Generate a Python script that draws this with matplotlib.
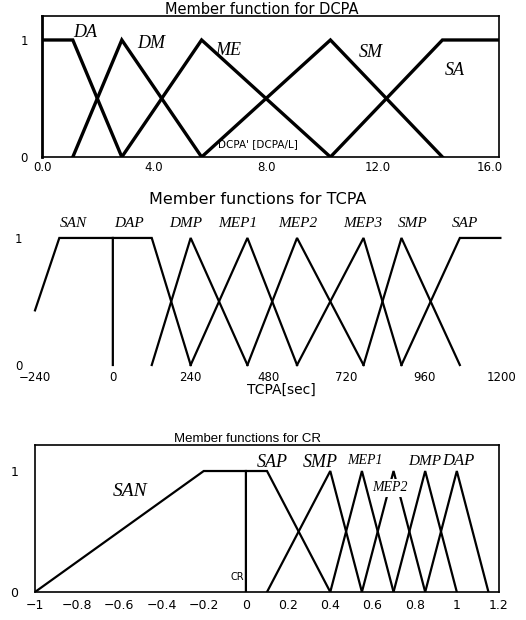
import matplotlib.pyplot as plt

plt.rcParams['font.family'] = 'DejaVu Sans'

# DCPA membership functions (break points)
dcpa_names = ['DA', 'DM', 'ME', 'SM', 'SA']
dcpa_x = [[0, 1.1, 2.85], [1.1, 2.85, 5.7], [2.85, 5.7, 10.3],
          [5.7, 10.3, 14.3], [10.3, 14.3, 16.3]]
dcpa_y = [[1, 1, 0], [0, 1, 0], [0, 1, 0], [0, 1, 0], [0, 1, 1]]

# TCPA membership functions
tcpa_names = ['SAN', 'DAP', 'DMP', 'MEP1', 'MEP2', 'MEP3', 'SMP', 'SAP']
tcpa_x = [[-240, -165, 0], [0, 0, 120, 240], [120, 240, 415], [240, 415, 568],
          [415, 568, 773], [568, 773, 890], [773, 890, 1070], [890, 1070, 1195]]
tcpa_y = [[0.43, 1, 1], [0, 1, 1, 0], [0, 1, 0], [0, 1, 0],
          [0, 1, 0], [0, 1, 0], [0, 1, 0], [0, 1, 1]]

# CR membership functions
cr_names = ['SAN', 'SAP', 'SMP', 'MEP1', 'MEP2', 'DMP', 'DAP']
cr_x = [[-1, -0.2, 0], [0, 0, 0.1, 0.4], [0.1, 0.4, 0.55], [0.4, 0.55, 0.7],
        [0.55, 0.7, 0.85], [0.7, 0.85, 1.0], [0.85, 1.0, 1.15]]
cr_y = [[0, 1, 1], [0, 1, 1, 0], [0, 1, 0], [0, 1, 0], [0, 1, 0], [0, 1, 0], [0, 1, 0]]

fig = plt.figure(figsize=(5.26, 6.2), dpi=100)
W, H = 526, 620


def box(l, t, r, b):
    return [l / W, 1 - b / H, (r - l) / W, (b - t) / H]


serif = dict(family='Liberation Serif', style='italic')

# ---- DCPA ----
ax1 = fig.add_axes(box(42, 16, 499, 157))
for xs, ys in zip(dcpa_x, dcpa_y):
    ax1.plot(xs, ys, color='black', lw=2.4, solid_joinstyle='miter')
ax1.set_xlim(0, 16.32)
ax1.set_ylim(0, 1.205)
ax1.set_xticks([0, 4, 8, 12, 16])
ax1.set_xticklabels(['0.0', '4.0', '8.0', '12.0', '16.0'])
ax1.set_yticks([0, 1])
ax1.tick_params(length=0, labelsize=8.5, pad=3)
ax1.tick_params(axis='y', pad=10)
for s in ax1.spines.values():
    s.set_linewidth(1.2)
ax1.spines['left'].set_linewidth(2)
dcpa_lbl = [(1.1, 1.06), (3.4, 0.97), (6.2, 0.91), (11.3, 0.89), (14.4, 0.74)]
for name, (lx, ly) in zip(dcpa_names, dcpa_lbl):
    ax1.text(lx, ly, name, fontsize=13, ha='left', va='center', **serif)
ax1.text(6.3, 0.11, "DCPA' [DCPA/L]", fontsize=7.5, ha='left', va='center')
fig.text(262 / W, 1 - 10 / H, 'Member function for DCPA', fontsize=10.5,
         ha='center', va='center')

# ---- TCPA ----
ax2 = fig.add_axes(box(35, 225, 502, 365))
for xs, ys in zip(tcpa_x, tcpa_y):
    ax2.plot(xs, ys, color='black', lw=1.6, clip_on=False, solid_joinstyle='miter')
ax2.set_xlim(-240, 1200)
ax2.set_ylim(0, 1.102)
ax2.set_xticks([-240, 0, 240, 480, 720, 960, 1200])
ax2.set_xticklabels(['\u2212240', '0', '240', '480', '720', '960', '1200'])
ax2.set_yticks([0, 1])
ax2.tick_params(length=0, labelsize=8.5, pad=4)
ax2.tick_params(axis='y', pad=9)
for s in ax2.spines.values():
    s.set_visible(False)
tcpa_lbl = [(-165, 1.11), (5, 1.11), (175, 1.11), (325, 1.11),
            (510, 1.11), (710, 1.11), (880, 1.11), (1045, 1.11)]
for name, (lx, ly) in zip(tcpa_names, tcpa_lbl):
    ax2.text(lx, ly, name, fontsize=11, ha='left', va='center', **serif)
fig.text(281 / W, 1 - 390 / H, 'TCPA[sec]', fontsize=10, ha='center', va='center')
fig.text(258 / W, 1 - 200 / H, 'Member functions for TCPA', fontsize=11.5,
         ha='center', va='center')

# ---- CR ----
ax3 = fig.add_axes(box(35, 445, 499, 592))
for xs, ys in zip(cr_x, cr_y):
    ax3.plot(xs, ys, color='black', lw=1.6, solid_joinstyle='miter')
ax3.set_xlim(-1, 1.2)
ax3.set_ylim(0, 1.215)
ax3.set_xticks([-1, -0.8, -0.6, -0.4, -0.2, 0, 0.2, 0.4, 0.6, 0.8, 1, 1.2])
ax3.set_xticklabels(['\u22121', '\u22120.8', '\u22120.6', '\u22120.4', '\u22120.2',
                     '0', '0.2', '0.4', '0.6', '0.8', '1', '1.2'])
ax3.set_yticks([0, 1])
ax3.tick_params(length=0, labelsize=9, pad=5)
ax3.tick_params(axis='y', pad=12)
for s in ax3.spines.values():
    s.set_linewidth(1.2)
cr_lbl = [(-0.63, 0.83, 14), (0.05, 1.07, 13), (0.27, 1.07, 13), (0.48, 1.09, 10),
          (0.60, 0.86, 10), (0.77, 1.08, 11), (0.93, 1.08, 12)]
for name, (lx, ly, fs) in zip(cr_names, cr_lbl):
    t = ax3.text(lx, ly, name, fontsize=fs, ha='left', va='center', zorder=5, **serif)
    if name == 'MEP2':
        t.set_bbox(dict(facecolor='white', edgecolor='none', pad=1.5))
ax3.text(-0.01, 0.12, 'CR', fontsize=7, ha='right', va='center')
fig.text(248 / W, 1 - 439 / H, 'Member functions for CR', fontsize=9.5,
         family='Liberation Sans', ha='center', va='center')

fig.savefig('out.png', dpi=100)
